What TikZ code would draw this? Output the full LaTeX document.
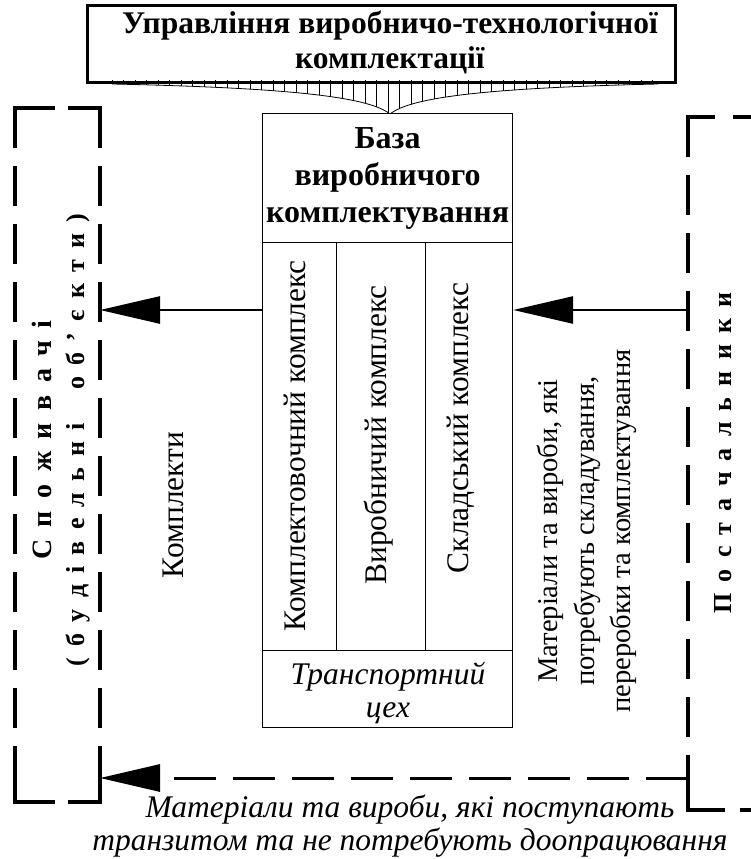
\documentclass[tikz,border=0pt]{standalone}
\usepackage{fontspec}
\setmainfont{Liberation Serif}
\usetikzlibrary{arrows.meta,calc}

\newcommand{\widegap}[1]{\spaceskip=#1\relax}

\tikzset{
  frame/.style={draw, line width=1.2pt, inner sep=0pt, anchor=north west},
  headbox/.style={draw, line width=3pt, inner sep=0pt, anchor=north west},
  brk/.style={line width=3.4pt, dash pattern=on 40pt off 18pt},
  brkcorner/.style={line width=3.4pt},
  flow/.style={line width=2.6pt, -{Triangle[length=60pt,width=27pt]}},
  dflow/.style={line width=3pt, dash pattern=on 42pt off 17pt, -{Triangle[length=60pt,width=27pt]}},
  headtext/.style={font=\fontsize{31.5}{35}\selectfont\bfseries, align=center, inner sep=0pt},
  basetxt/.style={font=\fontsize{32}{37}\selectfont\bfseries, align=center, inner sep=0pt},
  plain/.style={font=\fontsize{31.4}{37}\selectfont, align=center, inner sep=0pt},
  note/.style={font=\fontsize{28.6}{36.5}\selectfont, align=center, inner sep=0pt},
  ital/.style={font=\fontsize{31.5}{33}\selectfont\itshape, align=center, inner sep=0pt},
  bigspaced/.style={font=\fontsize{28}{30}\selectfont\bfseries\widegap{12.5pt}, inner sep=0pt, rotate=90},
  spaced/.style={font=\fontsize{26}{30}\selectfont\bfseries\widegap{11.2pt}, inner sep=0pt, rotate=90},
  hatch/.style={line width=0.8pt}
}

\begin{document}
\begin{tikzpicture}[x=1pt, y=-1pt]
\useasboundingbox (0,0) rectangle (751,859);

% striped funnel under the management box
\begin{scope}
  \clip (112,80) -- (112,84) .. controls (300,88) and (370,98) .. (390,114)
        .. controls (410,98) and (480,88) .. (658,84) -- (658,80) -- cycle;
  \foreach \xx in {112,123.5,...,660} {
    \draw[hatch] (\xx,78) -- (\xx,116);
  }
\end{scope}
\draw[hatch] (112,84) .. controls (300,88) and (370,98) .. (390,114)
        .. controls (410,98) and (480,88) .. (658,84);

% management box
\node[headbox, minimum width=588pt, minimum height=77pt] (mgmt) at (86,4) {};
\node[headtext] (mgmttext) at (390,42) {Управління виробничо-технологічної\\комплектації};

% production completion base
\node[frame, fill=white, minimum width=250pt, minimum height=129pt] (base) at (262,113) {};
\node[basetxt] (basetext) at (base.center) {База\\виробничого\\комплектування};
\node[frame, minimum width=74pt, minimum height=408pt] (col1) at (262,242) {};
\node[frame, minimum width=89pt, minimum height=408pt] (col2) at (336,242) {};
\node[frame, minimum width=87pt, minimum height=408pt] (col3) at (425,242) {};
\node[frame, minimum width=250pt, minimum height=77pt] (trans) at (262,650) {};
\node[ital] (transtext) at (388,693) {Транспортний\\цех};

\node[plain, rotate=90] (c1text) at (295,446) {Комплектовочний комплекс};
\node[plain, rotate=90] (c2text) at (379,435) {Виробничий комплекс};
\node[plain, rotate=90] (c3text) at (461,428) {Складський комплекс};

% consumers bracket
\coordinate (cNW) at (15,108);
\coordinate (cNE) at (100,108);
\coordinate (cSW) at (15,802);
\coordinate (cSE) at (100,802);
\draw[brk] (cNW) -- (cSW);
\draw[brk] (cNE) -- (cSE);
\draw[brk] (cNW) -- (cNE);
\draw[brk] (cSW) -- (cSE);
\draw[brkcorner] ($(cNW)+(0,34)$) -- (cNW) -- ($(cNW)+(18,0)$);
\draw[brkcorner] ($(cNE)+(0,34)$) -- (cNE) -- ($(cNE)+(-32,0)$);
\draw[brkcorner] ($(cSW)+(0,-38)$) -- (cSW) -- ($(cSW)+(33,0)$);
\draw[brkcorner] ($(cSE)+(0,-38)$) -- (cSE) -- ($(cSE)+(-32,0)$);
\node[bigspaced] (cons1) at (42,440) {С п о ж и в а ч і};
\node[spaced] (cons2) at (78,440) {( б у д і в е л ь н і \ \ о б ' є к т и )};

% suppliers bracket
\coordinate (sNW) at (688,117);
\coordinate (sSW) at (688,810);
\coordinate (sNE) at (760,117);
\coordinate (sSE) at (760,810);
\draw[brk] (sNW) -- (sSW);
\draw[brk, dash phase=-45pt] (sNW) -- (sNE);
\draw[brk, dash phase=-52pt] (sSW) -- (sSE);
\draw[brkcorner] ($(sNW)+(0,40)$) -- (sNW) -- ($(sNW)+(27,0)$);
\draw[brkcorner] ($(sSW)+(0,-38)$) -- (sSW) -- ($(sSW)+(37,0)$);
\node[spaced] (supp) at (723,453) {П о с т а ч а л ь н и к и};

% flows
\coordinate (cIn) at (100,310);
\coordinate (sOut) at (688,310);
\coordinate (cIn2) at (100,778);
\coordinate (sOut2) at (688,778);
\draw[flow] (col1.west |- cIn) -- (cIn);
\draw[flow] (sOut) -- (col3.east |- sOut);
\draw[dflow] (sOut2) -- (cIn2);

\node[plain, rotate=90] (kits) at (173,505) {Комплекти};
\node[note, rotate=90] (mats) at (587,531) {Матеріали та вироби, які\\потребують складування,\\переробки та комплектування};
\node[ital] (transit) at (410,826) {Матеріали та вироби, які поступають\\транзитом та не потребують доопрацювання};
\end{tikzpicture}
\end{document}
